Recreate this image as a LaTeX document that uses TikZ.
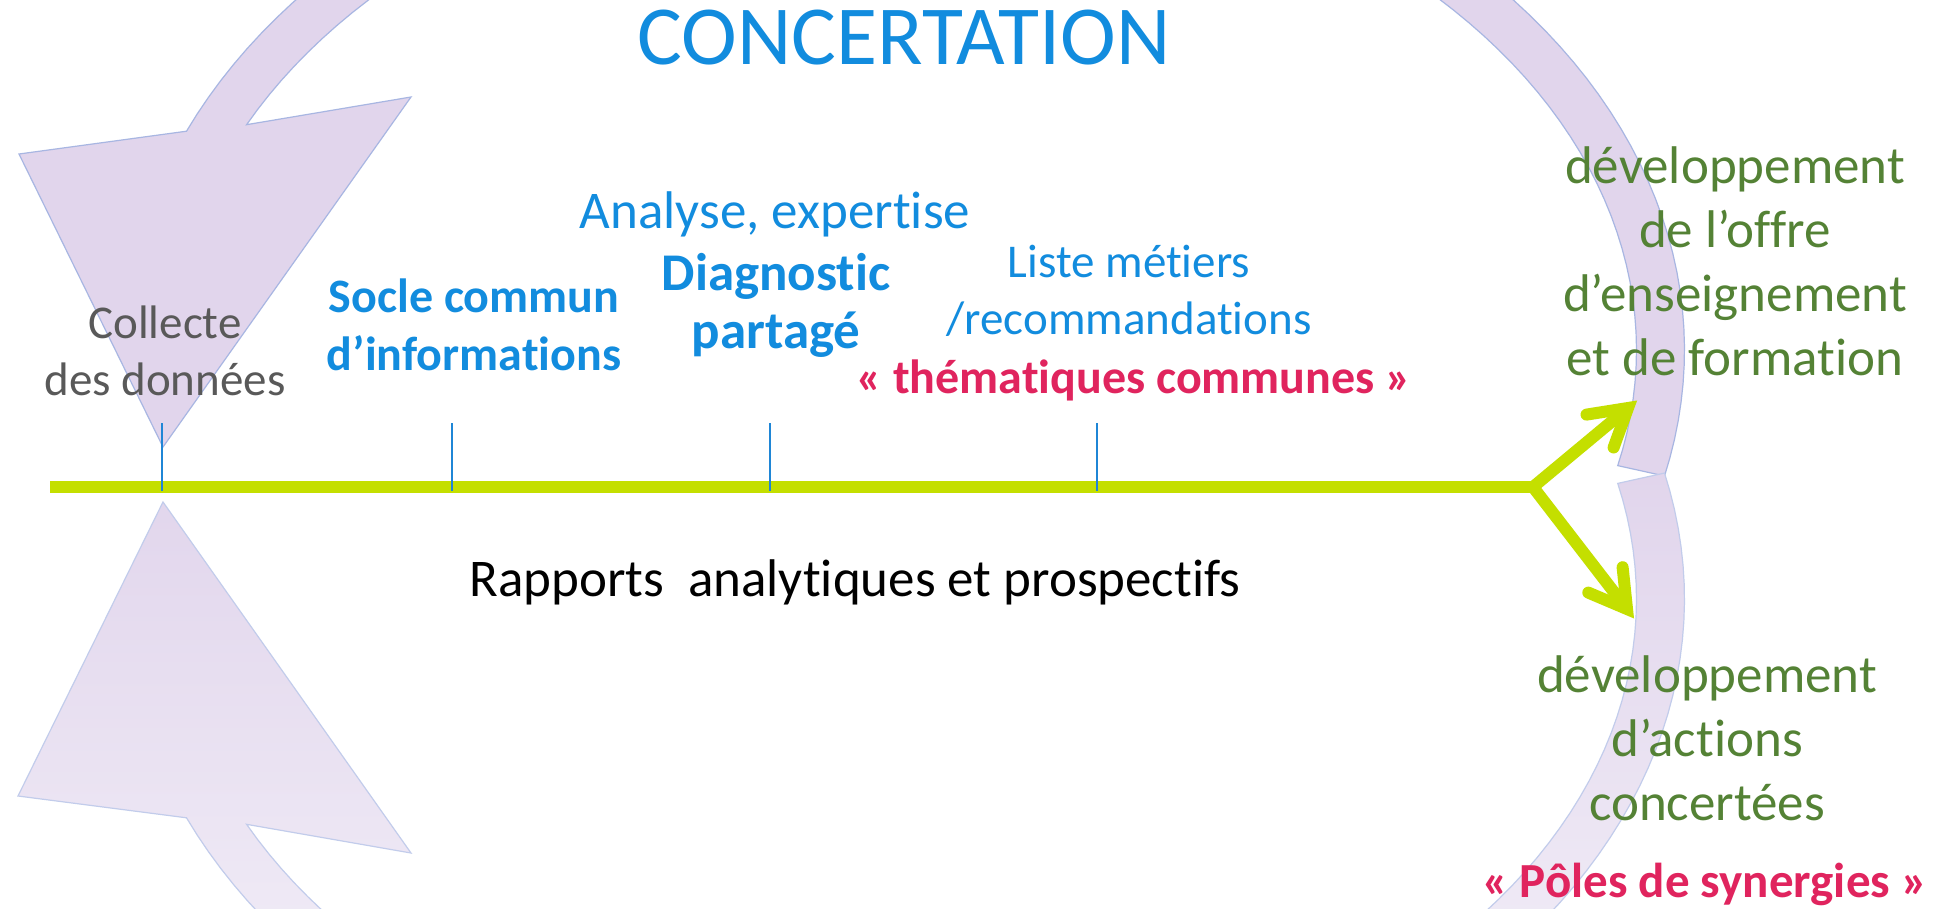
\documentclass[tikz,border=0pt]{standalone}
\usepackage{fontspec}
\setmainfont{Carlito}[Ligatures={NoCommon}]
\definecolor{concblue}{HTML}{128CDE}
\definecolor{tickblue}{HTML}{1F86D6}
\definecolor{txtgreen}{HTML}{548235}
\definecolor{crimson}{HTML}{E0245E}
\definecolor{txtgray}{HTML}{595959}
\definecolor{linegreen}{HTML}{C4DF00}
\definecolor{lilac}{HTML}{E1D5EC}
\definecolor{lilaclight}{HTML}{F6F4FA}
\definecolor{lilacedge}{HTML}{A8B6E2}
\begin{document}
\begin{tikzpicture}[x=1pt,y=-1pt,
  purpleshape/.style={fill=lilac,draw=lilacedge,line width=1.2pt},
  lowershape/.style={top color=lilac,bottom color=lilaclight,draw=lilacedge!70,line width=1.2pt},
  greenline/.style={draw=linegreen,line width=12pt},
  greenhead/.style={draw=linegreen,line width=12pt,line cap=round,line join=miter},
  tickline/.style={draw=tickblue,line width=2pt},
  lbl/.style={inner sep=0pt,anchor=base,align=center},
  f53/.style={font=\fontsize{53}{64}\selectfont},
  f47/.style={font=\fontsize{47}{57}\selectfont},
  b48/.style={font=\fontsize{48}{58}\selectfont\bfseries},
  b53/.style={font=\fontsize{53}{58}\selectfont\bfseries}
]
\useasboundingbox (0,0) rectangle (1939,908);
\clip (0,0) rectangle (1939,908);
\fill[white] (0,0) rectangle (1939,908);

% upper circular arrow
\path[purpleshape] plot[domain=-13:157,samples=90] ({904.5+780*cos(\x)},{350-560*sin(\x)})
  -- (19,154) -- (163,447) -- (411,97)
  -- plot[domain=154:-13,samples=90] ({904.5+732*cos(\x)},{350-514*sin(\x)}) -- cycle;

% lower circular arrow
\path[lowershape] plot[domain=-13:157,samples=90] ({904.5+780*cos(\x)},{599+560*sin(\x)})
  -- (18,796) -- (163,502) -- (411,853)
  -- plot[domain=154:-13,samples=90] ({904.5+732*cos(\x)},{599+514*sin(\x)}) -- cycle;

% timeline
\coordinate (L) at (50,487);
\coordinate (F) at (1533,487);
\coordinate (UT) at (1628,408);
\coordinate (UB1) at (1586.5,414.6);
\coordinate (UB2) at (1613.6,447.5);
\coordinate (DT) at (1627,609);
\coordinate (DB1) at (1588.3,592.6);
\coordinate (DB2) at (1622.6,567.2);
\draw[greenline] (L) -- (F);
\draw[greenline] (F) -- (UT);
\draw[greenline] (F) -- (DT);
\draw[greenhead] (UB1) -- (UT) -- (UB2);
\draw[greenhead] (DB1) -- (DT) -- (DB2);

% ticks
\foreach \tx in {162,452,770,1097}{
  \draw[tickline] (\tx,423) -- (\tx,491);
}

% texts (anchor = baseline of the last line)
\node[lbl,text=concblue,font=\fontsize{84}{96}\selectfont] (title) at (904,64) {CONCERTATION};
\node[lbl,f47,text=txtgray] (collecte) at (165,395) {Collecte\\des données};
\node[lbl,b48,text=concblue] (socle) at (474,370) {Socle commun\\d’informations};
\node[lbl,f53,text=concblue] (analyse) at (775,228) {Analyse, expertise};
\node[lbl,b53,text=concblue] (diag) at (776,348) {Diagnostic\\partagé};
\node[lbl,f47,text=concblue] (liste) at (1129,334) {Liste métiers\\/recommandations};
\node[lbl,b48,text=crimson] (them) at (1134,393) {« thématiques communes »};
\node[lbl,f53,text=black] (rapports) at (855,596) {Rapports\ \ analytiques et prospectifs};
\node[lbl,f53,text=txtgreen] (offre) at (1735,375) {développement\\de l’offre\\d’enseignement\\et de formation};
\node[lbl,f53,text=txtgreen] (actions) at (1707,820) {développement\\d’actions\\concertées};
\node[lbl,font=\fontsize{49}{58}\selectfont\bfseries,text=crimson] (poles) at (1705,897) {« Pôles de synergies »};
\end{tikzpicture}
\end{document}
